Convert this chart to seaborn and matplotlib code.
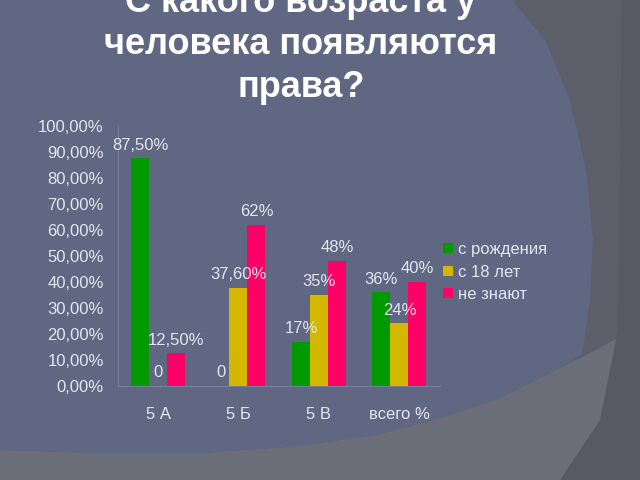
import matplotlib
matplotlib.use("Agg")
import matplotlib.pyplot as plt
import seaborn as sns
import pandas as pd
from matplotlib.patches import Polygon

categories = ["5 А", "5 Б", "5 В", "всего %"]
series = ["с рождения", "с 18 лет", "не знают"]
from_birth = [87.5, 0, 17, 36]
from_18 = [0, 37.6, 35, 24]
dont_know = [12.5, 62, 48, 40]
labels_birth = ["87,50%", "0", "17%", "36%"]
labels_18 = ["0", "37,60%", "35%", "24%"]
labels_dk = ["12,50%", "62%", "48%", "40%"]
yticks = [0, 10, 20, 30, 40, 50, 60, 70, 80, 90, 100]
title = "С какого возраста у\nчеловека появляются\nправа?"

colors = ["#009a00", "#d4b800", "#ff0066"]
bg_blue = "#5f6783"
txt = "#e4e6ee"

rows = []
for name, vals in zip(series, [from_birth, from_18, dont_know]):
    for c, v in zip(categories, vals):
        rows.append({"cat": c, "series": name, "value": v})
df = pd.DataFrame(rows)

sns.set_style("white")
plt.rcParams["font.family"] = ["Liberation Sans", "DejaVu Sans"]

fig = plt.figure(figsize=(6.4, 4.8), dpi=100)
fig.patch.set_facecolor("#5c5e6a")


def px(pts):
    return [[x / 640, 1 - y / 480] for x, y in pts]


# lighter gray lower band
fig.patches.append(Polygon(px([(0, 480), (0, 450), (100, 453), (200, 453), (300, 446), (380, 434),
                               (440, 418), (500, 398), (560, 368), (600, 348), (640, 325), (640, 480)]),
                           closed=True, transform=fig.transFigure, facecolor="#6b6d79",
                           edgecolor="none", zorder=-3))
# darker strip far right
fig.patches.append(Polygon(px([(622, 0), (640, 0), (640, 480), (560, 480), (600, 420), (618, 330)]),
                           closed=True, transform=fig.transFigure, facecolor="#575963",
                           edgecolor="none", zorder=-2))
# main blue area
fig.patches.append(Polygon(px([(0, 0), (512, 0), (545, 40), (570, 100), (586, 170), (593, 240),
                               (590, 300), (582, 355), (560, 368), (500, 398), (440, 418),
                               (380, 434), (300, 446), (200, 453), (100, 453), (0, 450)]),
                           closed=True, transform=fig.transFigure, facecolor=bg_blue,
                           edgecolor="none", zorder=-1))

ax = fig.add_axes([0.184, 0.196, 0.503, 0.542])
ax.set_facecolor("none")
sns.barplot(data=df, x="cat", y="value", hue="series", palette=colors,
            width=0.67, saturation=1, linewidth=0, ax=ax, legend=True)

ax.set_ylim(0, 100)
ax.set_yticks(yticks)
ax.set_yticklabels([f"{t},00%" for t in yticks])
ax.set_xlabel("")
ax.set_ylabel("")
ax.tick_params(axis="both", colors=txt, labelsize=12, length=0)
ax.tick_params(axis="y", pad=10)
ax.tick_params(axis="x", pad=15)
for s in ["top", "right"]:
    ax.spines[s].set_visible(False)
for s in ["left", "bottom"]:
    ax.spines[s].set_color("#777e98")
    ax.spines[s].set_linewidth(0.8)

all_labels = [labels_birth, labels_18, labels_dk]
all_vals = [from_birth, from_18, dont_know]
for cont, labs, vals in zip(ax.containers, all_labels, all_vals):
    for bar, lab, v in zip(cont, labs, vals):
        x = bar.get_x() + bar.get_width() / 2
        ax.text(x, v + 2.2, lab, ha="center", va="bottom", color=txt, fontsize=12)

leg = ax.legend(loc="upper left", bbox_to_anchor=(0.965, 0.61), frameon=False,
                fontsize=12, handlelength=0.55, handleheight=0.55, handletextpad=0.3,
                labelspacing=0.45)
for t in leg.get_texts():
    t.set_color(txt)

fig.text(301 / 640, 1 - 45 / 480, title, ha="center", va="center", color="white",
         fontsize=26, fontweight="bold", linespacing=1.27)

fig.savefig("out.png", dpi=100, facecolor=fig.get_facecolor())
